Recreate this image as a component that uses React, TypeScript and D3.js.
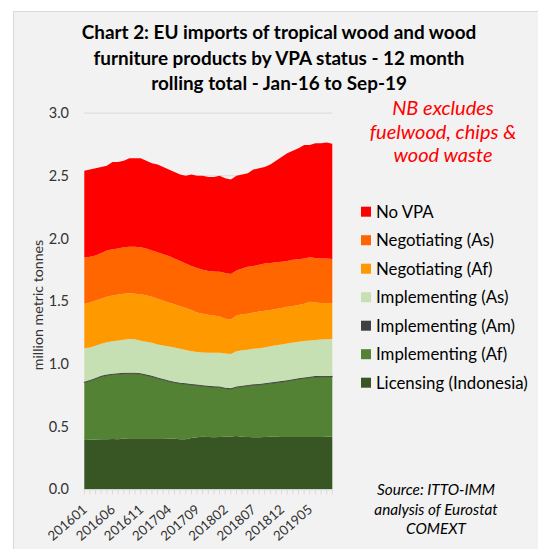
import React, { useEffect, useRef } from 'react';
import * as d3 from 'd3';

const months = [
  '201601', '201602', '201603', '201604', '201605', '201606', '201607', '201608', '201609', '201610', '201611', '201612',
  '201701', '201702', '201703', '201704', '201705', '201706', '201707', '201708', '201709', '201710', '201711', '201712',
  '201801', '201802', '201803', '201804', '201805', '201806', '201807', '201808', '201809', '201810', '201811', '201812',
  '201901', '201902', '201903', '201904', '201905', '201906', '201907', '201908', '201909',
];
const tickMonths = ['201601', '201606', '201611', '201704', '201709', '201802', '201807', '201812', '201905'];
const yTicks = [0, 0.5, 1.0, 1.5, 2.0, 2.5, 3.0];

// million tonnes, 12 month rolling totals
const licensingIndonesia = [0.393, 0.395, 0.398, 0.4, 0.4, 0.402, 0.4, 0.405, 0.407, 0.407, 0.407, 0.407, 0.407, 0.407, 0.407, 0.405, 0.403, 0.4, 0.4, 0.41, 0.415, 0.42, 0.418, 0.415, 0.418, 0.42, 0.422, 0.425, 0.42, 0.418, 0.415, 0.415, 0.418, 0.42, 0.42, 0.418, 0.418, 0.418, 0.418, 0.418, 0.418, 0.418, 0.418, 0.42, 0.42];
const implementingAf = [0.458, 0.47, 0.483, 0.498, 0.508, 0.513, 0.519, 0.517, 0.516, 0.516, 0.511, 0.501, 0.491, 0.478, 0.466, 0.456, 0.448, 0.443, 0.438, 0.423, 0.413, 0.403, 0.4, 0.4, 0.395, 0.383, 0.376, 0.388, 0.399, 0.407, 0.415, 0.418, 0.42, 0.425, 0.43, 0.438, 0.445, 0.453, 0.46, 0.467, 0.473, 0.478, 0.479, 0.477, 0.477];
const implementingAm = [0.007, 0.007, 0.007, 0.007, 0.007, 0.007, 0.007, 0.007, 0.007, 0.007, 0.007, 0.007, 0.007, 0.007, 0.007, 0.007, 0.007, 0.007, 0.007, 0.007, 0.007, 0.007, 0.007, 0.007, 0.007, 0.007, 0.007, 0.007, 0.007, 0.007, 0.007, 0.007, 0.007, 0.007, 0.007, 0.007, 0.007, 0.007, 0.007, 0.007, 0.007, 0.007, 0.007, 0.007, 0.007];
const implementingAs = [0.266, 0.258, 0.257, 0.255, 0.257, 0.258, 0.261, 0.264, 0.268, 0.266, 0.26, 0.262, 0.263, 0.263, 0.266, 0.27, 0.272, 0.27, 0.266, 0.26, 0.26, 0.26, 0.264, 0.267, 0.269, 0.273, 0.274, 0.28, 0.282, 0.281, 0.283, 0.284, 0.285, 0.288, 0.291, 0.292, 0.293, 0.292, 0.292, 0.291, 0.289, 0.287, 0.29, 0.292, 0.294];
const negotiatingAf = [0.354, 0.36, 0.36, 0.36, 0.363, 0.365, 0.366, 0.367, 0.365, 0.364, 0.371, 0.371, 0.367, 0.365, 0.359, 0.352, 0.345, 0.34, 0.334, 0.33, 0.315, 0.31, 0.303, 0.296, 0.289, 0.277, 0.276, 0.285, 0.287, 0.287, 0.29, 0.293, 0.293, 0.29, 0.289, 0.29, 0.292, 0.292, 0.293, 0.297, 0.309, 0.3, 0.291, 0.289, 0.285];
const negotiatingAs = [0.369, 0.365, 0.36, 0.365, 0.37, 0.37, 0.367, 0.37, 0.372, 0.375, 0.374, 0.372, 0.37, 0.37, 0.37, 0.37, 0.365, 0.36, 0.355, 0.35, 0.355, 0.35, 0.348, 0.352, 0.357, 0.365, 0.362, 0.36, 0.365, 0.375, 0.37, 0.373, 0.377, 0.375, 0.373, 0.37, 0.365, 0.368, 0.365, 0.36, 0.354, 0.355, 0.355, 0.355, 0.354];
const noVPA = [0.693, 0.695, 0.695, 0.685, 0.675, 0.695, 0.69, 0.69, 0.705, 0.705, 0.71, 0.7, 0.695, 0.7, 0.695, 0.69, 0.69, 0.69, 0.7, 0.73, 0.735, 0.75, 0.75, 0.753, 0.765, 0.755, 0.753, 0.755, 0.75, 0.745, 0.77, 0.77, 0.77, 0.785, 0.81, 0.835, 0.86, 0.87, 0.885, 0.905, 0.895, 0.915, 0.92, 0.925, 0.918];

const seriesNames = ['Licensing (Indonesia)', 'Implementing (Af)', 'Implementing (Am)', 'Implementing (As)', 'Negotiating (Af)', 'Negotiating (As)', 'No VPA'];
const seriesValues = [licensingIndonesia, implementingAf, implementingAm, implementingAs, negotiatingAf, negotiatingAs, noVPA];
const seriesColors = ['#375623', '#548235', '#404040', '#c6e0b4', '#ff9900', '#ff6600', '#ff0000'];

const W = 538;
const H = 549;
const FONT = 'Lato, "Open Sans", sans-serif';

const App: React.FC = () => {
  const svgRef = useRef<SVGSVGElement>(null);

  useEffect(() => {
    if (!svgRef.current) return;
    const svg = d3.select(svgRef.current);
    svg.selectAll('*').remove();

    const left = 84.3, right = 332.3, top = 113.1, bottom = 489.3;

    svg.append('rect')
      .attr('x', 13.5).attr('y', 11.5)
      .attr('width', W).attr('height', H)
      .attr('fill', '#f2f2f2')
      .attr('stroke', '#d9d9d9');

    const x = d3.scalePoint<string>().domain(months).range([left, right]);
    const y = d3.scaleLinear().domain([0, 3]).range([bottom, top]);

    // gridlines
    svg.append('g').selectAll('line')
      .data(yTicks.slice(1))
      .enter().append('line')
      .attr('x1', left).attr('x2', right)
      .attr('y1', d => y(d)).attr('y2', d => y(d))
      .attr('stroke', '#d9d9d9');

    const table = months.map((m, i) => {
      const row: Record<string, any> = { month: m };
      seriesNames.forEach((s, k) => { row[s] = seriesValues[k][i]; });
      return row;
    });
    const stack = d3.stack<any>().keys(seriesNames);
    const layers = stack(table);

    const area = d3.area<any>()
      .x(d => x(d.data.month) as number)
      .y0(d => y(d[0]))
      .y1(d => y(d[1]));

    svg.append('g').selectAll('path')
      .data(layers)
      .enter().append('path')
      .attr('d', area)
      .attr('fill', (_, i) => seriesColors[i])
      .attr('stroke', (_, i) => (i === 2 ? '#404040' : 'none'))
      .attr('stroke-width', 0.6);

    // x axis
    svg.append('line')
      .attr('x1', left).attr('x2', right)
      .attr('y1', bottom + 0.5).attr('y2', bottom + 0.5)
      .attr('stroke', '#d9d9d9');
    svg.append('g').selectAll('line')
      .data(months)
      .enter().append('line')
      .attr('x1', d => x(d) as number).attr('x2', d => x(d) as number)
      .attr('y1', bottom).attr('y2', bottom + 5)
      .attr('stroke', '#d9d9d9');

    svg.append('g').selectAll('text')
      .data(tickMonths)
      .enter().append('text')
      .attr('transform', d => `translate(${(x(d) as number) + 0.5},${bottom + 18}) rotate(-41)`)
      .attr('text-anchor', 'end')
      .attr('dy', '0.35em')
      .style('font-family', FONT)
      .style('font-size', '13.4px')
      .style('fill', '#333')
      .text(d => d);

    // y axis labels
    svg.append('g').selectAll('text')
      .data(yTicks)
      .enter().append('text')
      .attr('x', 69)
      .attr('y', d => y(d))
      .attr('dy', '0.35em')
      .attr('text-anchor', 'end')
      .style('font-family', FONT)
      .style('font-size', '14.5px')
      .style('fill', '#333')
      .text(d => d3.format('.1f')(d));

    svg.append('text')
      .attr('transform', 'translate(43,305) rotate(-90)')
      .attr('text-anchor', 'middle')
      .style('font-family', FONT)
      .style('font-size', '14.2px')
      .style('fill', '#333')
      .text('million metric tonnes');

    // title
    const titleLines = [
      'Chart 2: EU imports of tropical wood and wood',
      'furniture products by VPA status - 12 month',
      'rolling total - Jan-16 to Sep-19',
    ];
    svg.append('g').selectAll('text')
      .data(titleLines)
      .enter().append('text')
      .attr('x', 279)
      .attr('y', (_, i) => 39 + i * 25.5)
      .attr('text-anchor', 'middle')
      .style('font-family', FONT)
      .style('font-size', '18.9px')
      .style('font-weight', 'bold')
      .style('fill', '#000')
      .text(d => d);

    // note
    const noteLines = ['NB excludes', 'fuelwood, chips &', 'wood waste'];
    svg.append('g').selectAll('text')
      .data(noteLines)
      .enter().append('text')
      .attr('x', 443)
      .attr('y', (_, i) => 115 + i * 23.5)
      .attr('text-anchor', 'middle')
      .style('font-family', FONT)
      .style('font-size', '20px')
      .style('font-style', 'italic')
      .style('fill', '#ff0000')
      .text(d => d);

    // legend (top to bottom)
    const legendOrder = seriesNames.map((s, i) => ({ name: s, color: seriesColors[i] })).reverse();
    const lg = svg.append('g').selectAll('g')
      .data(legendOrder)
      .enter().append('g')
      .attr('transform', (_, i) => `translate(361,${211.7 + i * 28.5})`);
    lg.append('rect')
      .attr('x', 0).attr('y', -5)
      .attr('width', 10).attr('height', 10)
      .attr('fill', d => d.color);
    lg.append('text')
      .attr('x', 15)
      .attr('dy', '0.35em')
      .style('font-family', FONT)
      .style('font-size', '16.8px')
      .style('fill', '#000')
      .text(d => d.name);

    // source
    const sourceLines = ['Source: ITTO-IMM', 'analysis of Eurostat', 'COMEXT'];
    svg.append('g').selectAll('text')
      .data(sourceLines)
      .enter().append('text')
      .attr('x', 436)
      .attr('y', (_, i) => 495 + i * 19.5)
      .attr('text-anchor', 'middle')
      .style('font-family', FONT)
      .style('font-size', '15.3px')
      .style('font-style', 'italic')
      .style('fill', '#000')
      .text(d => d);
  }, []);

  return (
    <svg
      ref={svgRef}
      width={W}
      height={H}
      viewBox={`0 0 ${W} ${H}`}
      style={{ position: 'absolute', left: 0, top: 0, background: '#fff' }}
    />
  );
};

export default App;
